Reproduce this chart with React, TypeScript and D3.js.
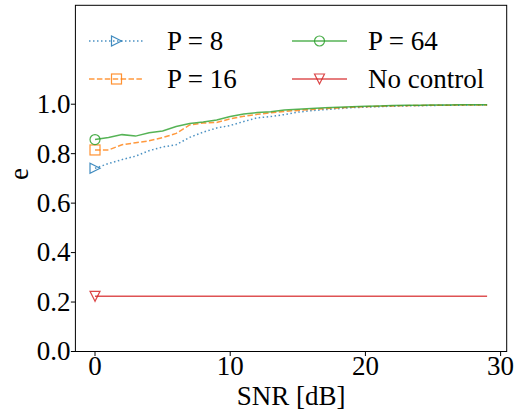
import React from "react";
import * as d3 from "d3";

const snr = d3.range(0, 30);
const p8 = [0.741, 0.760, 0.776, 0.790, 0.812, 0.827, 0.836, 0.866, 0.887, 0.904, 0.914, 0.930, 0.945, 0.950, 0.958, 0.968, 0.974, 0.978, 0.982, 0.986, 0.988, 0.990, 0.992, 0.993, 0.994, 0.995, 0.996, 0.996, 0.997, 0.997];
const p16 = [0.815, 0.815, 0.836, 0.844, 0.852, 0.865, 0.882, 0.916, 0.924, 0.926, 0.941, 0.951, 0.959, 0.965, 0.971, 0.975, 0.979, 0.982, 0.985, 0.988, 0.990, 0.992, 0.993, 0.994, 0.995, 0.996, 0.996, 0.997, 0.997, 0.997];
const p64 = [0.857, 0.865, 0.877, 0.871, 0.885, 0.892, 0.910, 0.922, 0.928, 0.936, 0.950, 0.960, 0.966, 0.970, 0.977, 0.980, 0.983, 0.986, 0.988, 0.990, 0.992, 0.993, 0.995, 0.996, 0.996, 0.997, 0.997, 0.998, 0.998, 0.998];
const noControl = snr.map(() => 0.223);
const xTicks = [0, 10, 20, 30];
const yTicks = [0.0, 0.2, 0.4, 0.6, 0.8, 1.0];

const seriesNames = ["P = 8", "P = 16", "P = 64", "No control"];
const seriesData = [p8, p16, p64, noControl];
const seriesColors = ["#1f77b4", "#ff7f0e", "#2ca02c", "#d62728"];
const seriesDash = ["1.5,2.5", "5.5,2.4", "", ""];
const seriesMarker = ["triRight", "square", "circle", "triDown"];

const W = 527, H = 414;
const L = 75.4, R = 506.7, T = 5.3, B = 351.5;
const txt = { fontFamily: "Liberation Serif", fontSize: 27 };

function Marker({ type, x, y, color }: { type: string; x: number; y: number; color: string }) {
  const s = 5;
  const common = { fill: "none", stroke: color, strokeWidth: 1.2, strokeOpacity: 0.85 };
  if (type === "circle") return <circle cx={x} cy={y} r={s} {...common} />;
  if (type === "square") return <rect x={x - s} y={y - s} width={2 * s} height={2 * s} {...common} />;
  if (type === "triRight")
    return <path d={`M${x + s},${y} L${x - s},${y - s} L${x - s},${y + s} Z`} {...common} />;
  return <path d={`M${x},${y + s} L${x - s},${y - s} L${x + s},${y - s} Z`} {...common} />;
}

export default function App() {
  const x = d3.scaleLinear().domain([-1.45, 30.45]).range([L, R]);
  const y = d3.scaleLinear().domain([0, 1.4]).range([B, T]);
  const line = d3
    .line<number>()
    .x((_, i) => x(snr[i]))
    .y((d) => y(d));

  const order = [3, 0, 1, 2];
  const legendPos = [
    { hx: 89, tx: 167, y: 41 },
    { hx: 89, tx: 167, y: 79 },
    { hx: 292, tx: 368, y: 41 },
    { hx: 292, tx: 368, y: 79 },
  ];

  return (
    <svg width={W} height={H} style={{ position: "absolute", left: 0, top: 0, background: "#fff" }}>
      <rect width={W} height={H} fill="#fff" />
      {order.map((k) => (
        <g key={k}>
          <path
            d={line(seriesData[k]) || ""}
            fill="none"
            stroke={seriesColors[k]}
            strokeOpacity={0.8}
            strokeWidth={1.5}
            strokeDasharray={seriesDash[k] || undefined}
          />
          <Marker type={seriesMarker[k]} x={x(snr[0])} y={y(seriesData[k][0])} color={seriesColors[k]} />
        </g>
      ))}
      <rect x={L} y={T} width={R - L} height={B - T} fill="none" stroke="#000" strokeWidth={1} />
      {xTicks.map((t) => (
        <g key={t}>
          <line x1={x(t)} x2={x(t)} y1={B} y2={B + 4.5} stroke="#000" />
          <text x={x(t)} y={375} style={txt} textAnchor="middle" fill="#000">
            {t}
          </text>
        </g>
      ))}
      {yTicks.map((t) => (
        <g key={t}>
          <line x1={L - 4.5} x2={L} y1={y(t)} y2={y(t)} stroke="#000" />
          <text x={L - 5} y={y(t)} dy="0.33em" style={txt} textAnchor="end" fill="#000">
            {t.toFixed(1)}
          </text>
        </g>
      ))}
      <text x={(L + R) / 2} y={405} style={txt} textAnchor="middle" fill="#000">
        SNR [dB]
      </text>
      <text transform={`translate(28,174) rotate(-90)`} style={txt} textAnchor="middle" fill="#000">
        e
      </text>
      {seriesNames.map((name, k) => {
        const p = legendPos[k];
        return (
          <g key={name}>
            <line
              x1={p.hx}
              x2={p.hx + 55}
              y1={p.y}
              y2={p.y}
              stroke={seriesColors[k]}
              strokeOpacity={0.8}
              strokeWidth={1.5}
              strokeDasharray={seriesDash[k] || undefined}
            />
            <Marker type={seriesMarker[k]} x={p.hx + 27.5} y={p.y} color={seriesColors[k]} />
            <text x={p.tx} y={p.y + 9} style={txt} fill="#000">
              {name}
            </text>
          </g>
        );
      })}
    </svg>
  );
}
